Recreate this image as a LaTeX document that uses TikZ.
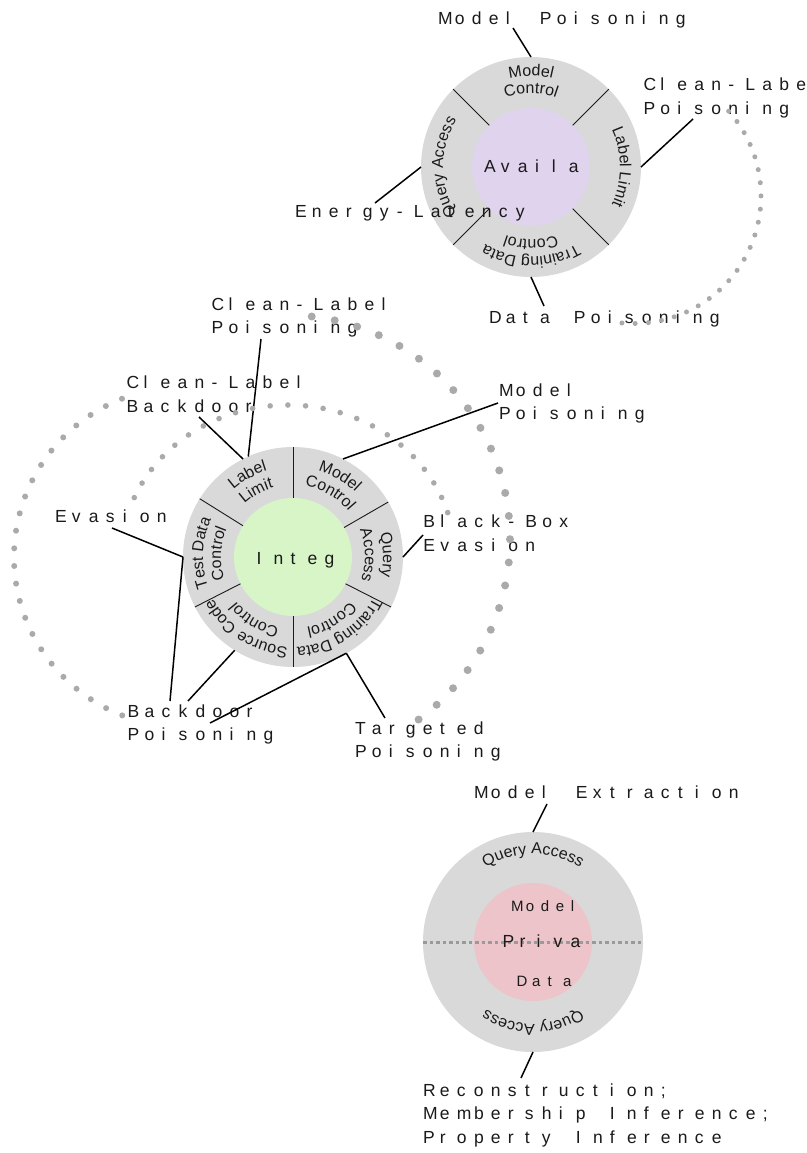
\documentclass[tikz,border=0pt]{standalone}
\usepackage{fontspec}
\setmainfont{Liberation Sans}
\usetikzlibrary{decorations.text}
\definecolor{ringc}{HTML}{D9D9D9}
\definecolor{availc}{HTML}{E0D3EE}
\definecolor{integc}{HTML}{D8F5C8}
\definecolor{privac}{HTML}{ECC4C9}
\definecolor{dotc}{HTML}{AAAAAA}
\definecolor{privdotc}{HTML}{9A9A9A}
\definecolor{inkc}{HTML}{1A1A1A}
\ExplSyntaxOn
\NewDocumentCommand\spaced{O{17bp}m}{\str_map_inline:nn{#2}{\makebox[#1][l]{##1}}}
\ExplSyntaxOff
\newcommand\lblfont{\fontsize{17.5bp}{23.5bp}\selectfont}
\newcommand\smallfont{\fontsize{15bp}{18bp}\selectfont}
\newcommand\arcfont{\fontsize{16bp}{19bp}\selectfont}
\newcommand\arctxt[4]{\path[decorate,decoration={text along path,text align=center,text color=inkc,text={|\arcfont|#4}}] (#1.center) ++({#3+70}:#2) arc[start angle={#3+70},end angle={#3-70},radius=#2];}
\begin{document}
\begin{tikzpicture}[x=1bp,y=1bp,
  lbl/.style={inner sep=0pt, outer sep=0pt, anchor=base west, align=left, font=\lblfont, text=inkc},
  ring/.style={circle, fill=ringc, inner sep=0pt, outer sep=0pt, minimum size=220bp},
  core/.style={circle, inner sep=0pt, outer sep=0pt, minimum size=118bp},
  divider/.style={draw=inkc, line width=0.9bp},
  conn/.style={draw=black, line width=1.5bp},
  dotmark/.style={fill=dotc},
  privline/.style={draw=privdotc, line width=3bp, dash pattern=on 3.5bp off 3bp}
]
\useasboundingbox (0,0) rectangle (807,-1153);
\fill[white] (0,0) rectangle (807,-1153);

% ---------- Availability ----------
\node[ring] (Aring) at (531,-167) {};
\node[core, fill=availc] (Acore) at (531,-167) {};
\foreach \a in {45,135,225,315} \draw[divider] (Acore.\a) -- (Aring.\a);
\arctxt{Acore}{91}{90}{Model}
\arctxt{Acore}{74}{90}{Control}
\arctxt{Acore}{89}{0}{Label Limit}
\arctxt{Acore}{90}{270}{Training Data}
\arctxt{Acore}{73}{270}{Control}
\arctxt{Acore}{88}{180}{Query Access}

% ---------- Integrity ----------
\node[ring] (Iring) at (293,-557) {};
\node[core, fill=integc] (Icore) at (293,-557) {};
\foreach \a in {30,90,148,207,270,333} \draw[divider] (Icore.\a) -- (Iring.\a);
\arctxt{Icore}{90}{60}{Model}
\arctxt{Icore}{72}{60}{Control}
\arctxt{Icore}{90}{119}{Label}
\arctxt{Icore}{72}{119}{Limit}
\arctxt{Icore}{90}{177.5}{Test Data}
\arctxt{Icore}{72}{177.5}{Control}
\arctxt{Icore}{90}{237}{Source Code}
\arctxt{Icore}{72}{238.5}{Control}
\arctxt{Icore}{90}{303}{Training Data}
\arctxt{Icore}{72}{301.5}{Control}
\arctxt{Icore}{90}{1.5}{Query}
\arctxt{Icore}{72}{1.5}{Access}

% ---------- Privacy ----------
\node[ring] (Pring) at (533,-942) {};
\node[core, fill=privac] (Pcore) at (533,-942) {};
\draw[privline] (Pring.west) -- (Pring.east);
\arctxt{Pcore}{88}{90}{Query Access}
\arctxt{Pcore}{82}{270}{Query Access}

% ---------- inner texts ----------
\node[lbl] (At) at (484,-172) {\spaced{Availa}};
\node[lbl] (It) at (256.7,-564) {\spaced{Integ}};
\node[lbl] (Pt) at (502.7,-947) {\spaced{Priva}};
\node[lbl, font=\smallfont] (Pm) at (511,-911) {\spaced[15bp]{Model}};
\node[lbl, font=\smallfont] (Pd) at (516.7,-986) {\spaced[15.5bp]{Data}};

% ---------- labels (base = last line) ----------
\node[lbl] (L1) at (438,-24) {\spaced{Model Poisoning}};
\node[lbl] (L2) at (643.5,-114) {\spaced{Clean-Label}\\\spaced{Poisoning}};
\node[lbl] (L3) at (295,-217) {\spaced{Energy-Latency}};
\node[lbl] (L4) at (489,-323) {\spaced{Data Poisoning}};
\node[lbl] (L5) at (211.7,-333.5) {\spaced{Clean-Label}\\\spaced{Poisoning}};
\node[lbl] (L6) at (126.7,-412) {\spaced{Clean-Label}\\\spaced{Backdoor}};
\node[lbl] (L7) at (499,-419.5) {\spaced{Model}\\\spaced{Poisoning}};
\node[lbl] (L8) at (55,-522) {\spaced{Evasion}};
\node[lbl] (L9) at (423.3,-551) {\spaced{Black-Box}\\\spaced{Evasion}};
\node[lbl] (L10) at (127.7,-740.5) {\spaced{Backdoor}\\\spaced{Poisoning}};
\node[lbl] (L11) at (355,-757.5) {\spaced{Targeted}\\\spaced{Poisoning}};
\node[lbl] (L12) at (474,-798) {\spaced{Model Extraction}};
\node[lbl] (L13) at (423,-1143) {\spaced{Reconstruction;}\\\spaced{Membership Inference;}\\\spaced{Property Inference}};

% ---------- connectors ----------
\coordinate (e1) at (513,-28);
\coordinate (e2) at (693,-119);
\coordinate (e3) at (375,-203);
\coordinate (e4) at (544,-306);
\coordinate (e5) at (261,-339);
\coordinate (e6) at (199,-417);
\coordinate (e7) at (498,-403);
\coordinate (e8) at (423,-535);
\coordinate (e9) at (112,-528);
\coordinate (e10) at (170,-701);
\coordinate (e11) at (188,-701);
\coordinate (e12) at (210,-723);
\coordinate (e13) at (385,-718);
\coordinate (e14) at (547,-804);
\coordinate (e15) at (521,-1078);
\draw[conn] (e1) -- (Aring.north);
\draw[conn] (e2) -- (Aring.east);
\draw[conn] (e3) -- (Aring.west);
\draw[conn] (e4) -- (Aring.south);
\draw[conn] (e5) -- (Iring.114);
\draw[conn] (e6) -- (Iring.117);
\draw[conn] (e7) -- (Iring.63);
\draw[conn] (e8) -- (Iring.east);
\draw[conn] (e9) -- (Iring.west);
\draw[conn] (e10) -- (Iring.west);
\draw[conn] (e11) -- (Iring.238);
\draw[conn] (e12) -- (Iring.-61);
\draw[conn] (e13) -- (Iring.-61);
\draw[conn] (e14) -- (Pring.north);
\draw[conn] (e15) -- (Pring.south);

% ---------- dotted arcs ----------
\foreach \i in {0,...,23}{\fill[dotmark] (633.5,-196) ++({41.7-\i*136.9/23}:127.5) circle[radius=2.5];}
\foreach \i in {0,...,23}{\fill[dotmark] (286,-539) ++({83.4-\i*137.1/23}:224) circle[radius=4];}
\foreach \i in {0,...,23}{\fill[dotmark] (184,-557) ++({111.4+\i*137.3/23}:170) circle[radius=3];}
\foreach \i in {0,...,23}{\fill[dotmark] (288,-557) ++({157-\i*140/23}:167 and 152) circle[radius=2.8];}
\end{tikzpicture}
\end{document}
